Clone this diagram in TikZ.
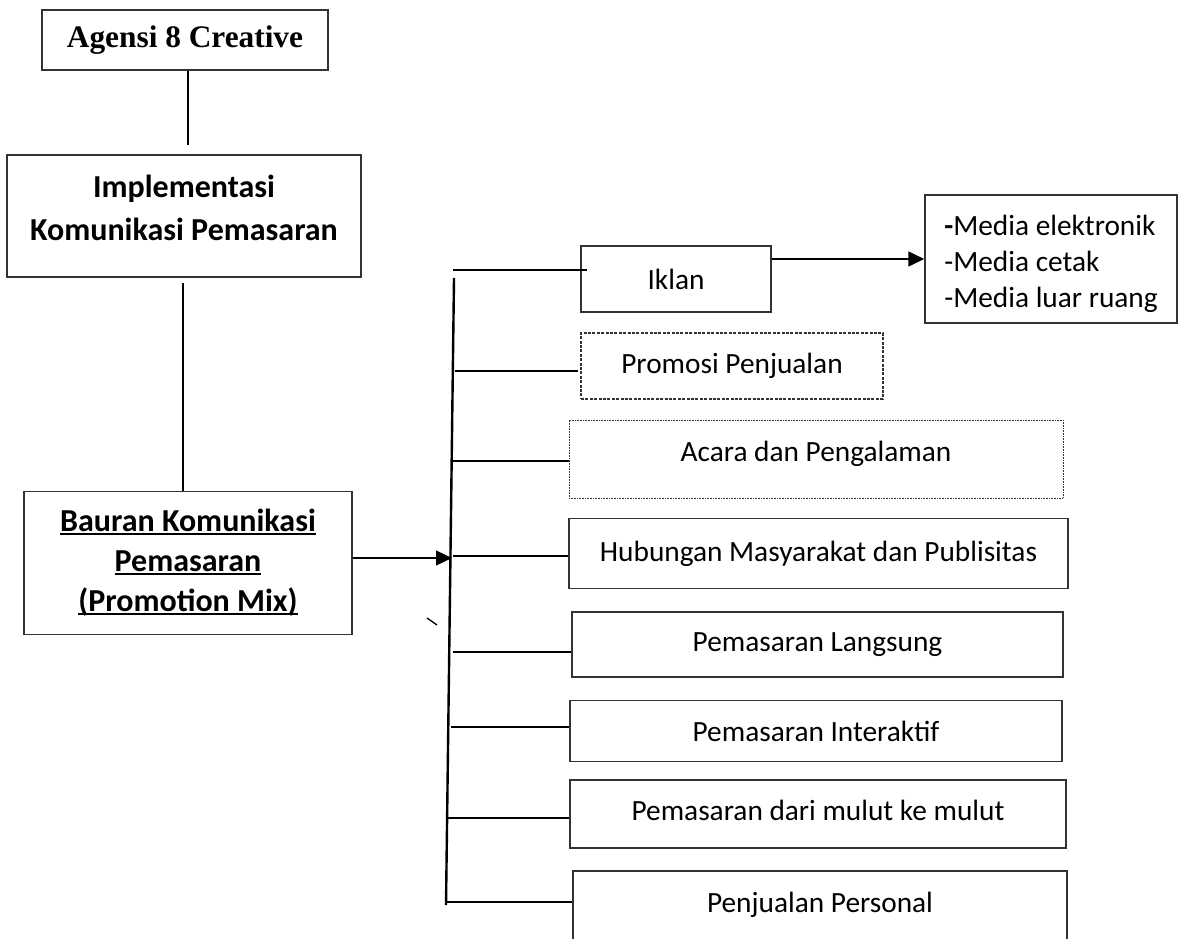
\documentclass[tikz,border=0pt]{standalone}
\usepackage{fontspec}
\setmainfont{Carlito}
\newfontfamily\timesf{Liberation Serif}
\usetikzlibrary{arrows.meta}
\newcommand\thickul[1]{\setbox0\hbox{#1}\rlap{\rule[-2.6pt]{\wd0}{1.4pt}}\box0}
\begin{document}
\begin{tikzpicture}[x=0.75pt,y=-0.75pt,
 box/.style={draw=black!80, line width=1pt, inner sep=0pt, align=center,
   font=\fontsize{22}{28.5}\selectfont},
 sz/.style 2 args={minimum width=#1*0.75pt, minimum height=#2*0.75pt},
 dashbox/.style={dash pattern=on 2.2pt off 1.1pt, line width=0.8pt},
 dotbox/.style={dash pattern=on 0.6pt off 0.6pt, line width=0.7pt},
 conn/.style={line width=1.8pt, black},
 arr/.style={conn, -{Triangle[length=12pt,width=11pt]}},
]
\useasboundingbox (0,0) rectangle (1180,938);
\clip (0,0) rectangle (1180,938);

% left column
\node[box, sz={286}{60}, font=\timesf\bfseries\fontsize{23.5}{28}\selectfont] (agensi) at (185,40) {Agensi 8 Creative};
\node[box, sz={354}{122}, font=\bfseries\fontsize{24}{32}\selectfont] (impl) at (184,216)
  {\raisebox{-18pt}[0pt][0pt]{\begin{tabular}[b]{@{}c@{}}Implementasi\\Komunikasi Pemasaran\end{tabular}}};
\node[box, sz={328}{143}, font=\bfseries\fontsize{24}{30}\selectfont] (bauran) at (188,563)
  {\thickul{Bauran Komunikasi}\\\thickul{Pemasaran}\\\thickul{(Promotion Mix)}};

% right column
\node[box, sz={190}{66}] (iklan) at (676,279) {Iklan};
\node[box, dashbox, sz={302}{66}] (promosi) at (732,366) {Promosi Penjualan};
\node[box, dotbox, sz={494}{78}] (acara) at (816,459) {\raisebox{-1.8pt}[0pt][0pt]{Acara dan Pengalaman}};
\node[box, sz={499}{70}] (humas) at (818.5,553.5) {\raisebox{2pt}{Hubungan Masyarakat dan Publisitas}};
\node[box, sz={491}{65}] (langsung) at (817.5,644.5) {Pemasaran Langsung};
\node[box, sz={492}{61}] (interaktif) at (816,731) {Pemasaran Interaktif};
\node[box, sz={496}{68}] (mulut) at (818,814) {\raisebox{6pt}{Pemasaran dari mulut ke mulut}};
\node[box, sz={494}{70}] (personal) at (820,906) {\raisebox{5pt}{Penjualan Personal}};
\node[box, sz={252}{128}, font=\fontsize{22}{27}\selectfont] (media) at (1051,259)
  {\raisebox{-36pt}[0pt][0pt]{\begin{tabular}[b]{@{}l@{}}\textbf{-}Media elektronik\\-Media cetak\\-Media luar ruang\end{tabular}}};

% connectors
\coordinate (g1) at (188,145);
\draw[conn] (agensi.south -| g1) -- (g1);
\coordinate (g2) at (183,283);
\draw[conn] (g2) -- (g2 |- bauran.north);

\coordinate (ah) at (452,558);
\draw[arr] (bauran.east |- ah) -- (ah);

\coordinate (t1) at (454,278);
\coordinate (t2) at (446,905);
\draw[conn] (t1) -- (t2);

\coordinate (s1) at (453,270);
\coordinate (s2) at (455,371);
\coordinate (s3) at (451,461);
\coordinate (s4) at (453,556);
\coordinate (s5) at (453,652);
\coordinate (s6) at (451,727);
\coordinate (s7) at (446,818);
\coordinate (s8) at (446,902);
\draw[conn] (s1) -- ([xshift=5pt]s1 -| iklan.west);
\draw[conn] (s2) -- ([xshift=-2pt]s2 -| promosi.west);
\draw[conn] (s3) -- (s3 -| acara.west);
\draw[line width=1.2pt] (s4) -- (s4 -| humas.west);
\draw[conn] (s5) -- (s5 -| langsung.west);
\draw[conn] (s6) -- (s6 -| interaktif.west);
\draw[conn] (s7) -- (s7 -| mulut.west);
\draw[conn] (s8) -- (s8 -| personal.west);

\coordinate (ia) at (771,259);
\draw[arr] (ia -| iklan.east) -- (ia -| media.west);

% stray tick mark
\draw[line width=1pt] (427,618) -- (437,625);
\end{tikzpicture}
\end{document}
